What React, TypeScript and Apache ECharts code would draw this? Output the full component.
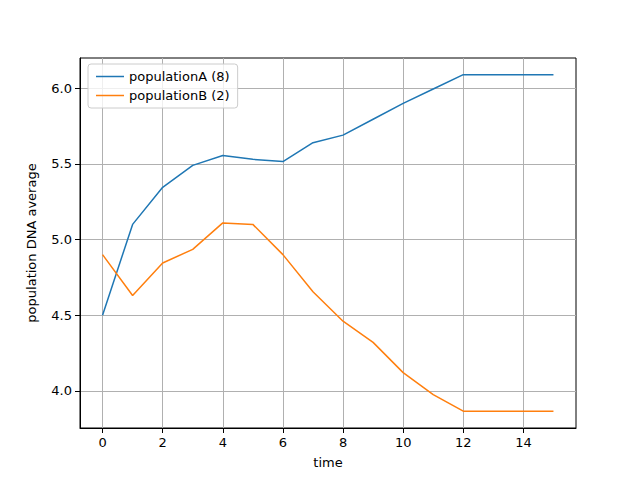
import React, { useEffect, useRef } from 'react';
import * as echarts from 'echarts';

const times = [0, 1, 2, 3, 4, 5, 6, 7, 8, 9, 10, 11, 12, 13, 14, 15];
const popA = [4.5, 5.1, 5.345, 5.49, 5.555, 5.53, 5.515, 5.64, 5.69, 5.795, 5.9, 5.995, 6.09, 6.09, 6.09, 6.09];
const popB = [4.9, 4.63, 4.845, 4.935, 5.11, 5.1, 4.9, 4.655, 4.46, 4.32, 4.12, 3.975, 3.865, 3.865, 3.865, 3.865];
const xTicks = [0, 2, 4, 6, 8, 10, 12, 14];
const yTicks = [4.0, 4.5, 5.0, 5.5, 6.0];

const font = 'DejaVu Sans';

const App: React.FC = () => {
  const chartRef = useRef<HTMLDivElement>(null);

  useEffect(() => {
    if (!chartRef.current) return;
    const chart = echarts.init(chartRef.current, undefined, { renderer: 'svg' });
    const axisCommon = {
      axisLine: { show: true, onZero: false, lineStyle: { color: '#000', width: 1 } },
      axisTick: { show: true, length: 5, lineStyle: { color: '#000' } },
      splitLine: { show: true, lineStyle: { color: '#b0b0b0', width: 1 } },
      nameTextStyle: { color: '#000', fontFamily: font, fontSize: 13 },
    };
    chart.setOption({
      animation: false,
      grid: { left: 80, right: 64, top: 58, bottom: 52, show: true, borderColor: '#000', borderWidth: 1 },
      legend: {
        left: 88, top: 64, orient: 'vertical', itemGap: 6,
        backgroundColor: 'rgba(255,255,255,0.8)', borderColor: '#ccc', borderWidth: 1, borderRadius: 3,
        padding: [6, 8], itemWidth: 28, itemHeight: 10,
        textStyle: { fontFamily: font, fontSize: 13, color: '#000' },
        data: [
          { name: 'populationA (8)', icon: 'path://M0,5L28,5L28,6.5L0,6.5Z' },
          { name: 'populationB (2)', icon: 'path://M0,5L28,5L28,6.5L0,6.5Z' },
        ],
      },
      xAxis: {
        type: 'value', min: -0.75, max: 15.75, name: 'time', nameLocation: 'middle', nameGap: 28,
        ...axisCommon,
        axisTick: { ...axisCommon.axisTick, customValues: xTicks },
        axisLabel: { customValues: xTicks, color: '#000', fontFamily: font, fontSize: 13, margin: 8 },
      },
      yAxis: {
        type: 'value', min: 3.754, max: 6.2, name: 'population DNA average', nameLocation: 'middle', nameGap: 42,
        ...axisCommon,
        axisTick: { ...axisCommon.axisTick, customValues: yTicks },
        axisLabel: {
          customValues: yTicks, color: '#000', fontFamily: font, fontSize: 13, margin: 8,
          formatter: (v: number) => v.toFixed(1),
        },
      },
      series: [
        {
          name: 'populationA (8)', type: 'line', data: times.map((t, i) => [t, popA[i]]),
          showSymbol: false, color: '#1f77b4', lineStyle: { width: 1.5 },
        },
        {
          name: 'populationB (2)', type: 'line', data: times.map((t, i) => [t, popB[i]]),
          showSymbol: false, color: '#ff7f0e', lineStyle: { width: 1.5 },
        },
      ],
    });
    return () => chart.dispose();
  }, []);

  return <div ref={chartRef} style={{ width: 640, height: 480, margin: -8 }} />;
};

export default App;
